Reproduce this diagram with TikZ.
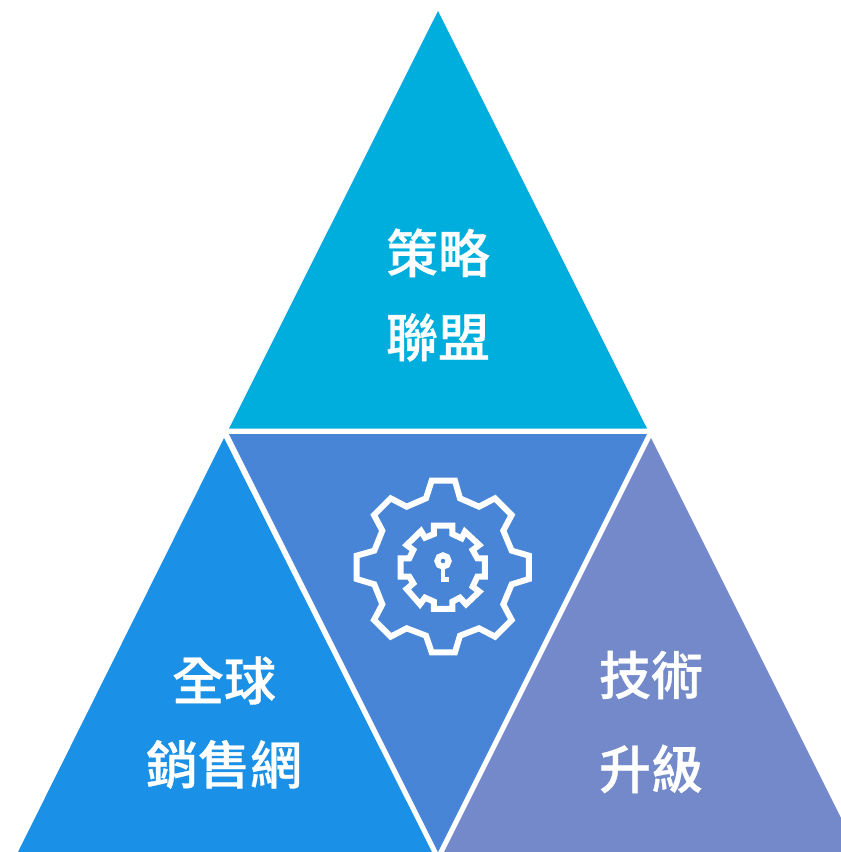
\documentclass[tikz,border=0pt]{standalone}
\usepackage{fontspec}
\newfontfamily\cjk{Noto Sans CJK TC Medium}[FakeBold=0.6]
\definecolor{topc}{HTML}{00AEDD}
\definecolor{midc}{HTML}{4885D6}
\definecolor{leftc}{HTML}{1A91E6}
\definecolor{rightc}{HTML}{7389C9}
\tikzset{
  lbl/.style={text=white,font=\cjk\fontsize{52}{84}\selectfont,align=center,inner sep=0pt},
  lblwide/.style={text=white,font=\cjk\fontsize{52}{94}\selectfont,align=center,inner sep=0pt},
  gearline/.style={draw=white,line width=6pt,miter limit=10,line join=miter},
}
\begin{document}
\begin{tikzpicture}[x=1pt,y=-1pt]
\useasboundingbox (0,0) rectangle (841,852);
\clip (0,0) rectangle (841,852);
\fill[topc] (438,11) -- (647,428.5) -- (229,428.5) -- cycle;
\fill[midc] (229,434) -- (647,434) -- (438,852) -- cycle;
\fill[leftc] (224,438) -- (432,852) -- (18,852) -- cycle;
\fill[rightc] (651,438) -- (858,852) -- (444,852) -- cycle;
\begin{scope}[shift={(340,465)},scale=0.3333]
\draw[gearline] (275,47)--(345,47)--(360,100)--(417,125)--(465,100)--(515,150)--(490,197)--(515,257)--(567,272)--(567,342)--(515,358)--(490,418)--(515,465)--(465,515)--(417,490)--(360,512)--(345,562)--(275,562)--(258,512)--(200,490)--(152,515)--(102,465)--(127,418)--(103,358)--(50,342)--(50,272)--(103,257)--(127,197)--(102,150)--(152,100)--(200,125)--(258,100)--cycle;
\draw[gearline] (282,182)--(337,182)--(337,207)--(365,220)--(375,200)--(418,240)--(398,255)--(412,280)--(435,280)--(435,335)--(412,335)--(398,365)--(418,380)--(378,418)--(360,398)--(337,410)--(337,432)--(282,432)--(282,410)--(255,398)--(240,418)--(200,372)--(220,355)--(208,335)--(182,335)--(182,280)--(208,280)--(220,255)--(200,240)--(243,198)--(255,218)--(282,207)--cycle;
\draw[white,line width=6pt] (309,288) circle[radius=17];
\draw[white,line width=4.7pt] (309,306) -- (309,343) -- (328,343);
\end{scope}
\node[lbl] (a) at (438,295) {策略\\聯盟};
\node[lbl] (b) at (224,722.5) {全球\\銷售網};
\node[lblwide] (c) at (651,722) {技術\\升級};
\end{tikzpicture}
\end{document}
